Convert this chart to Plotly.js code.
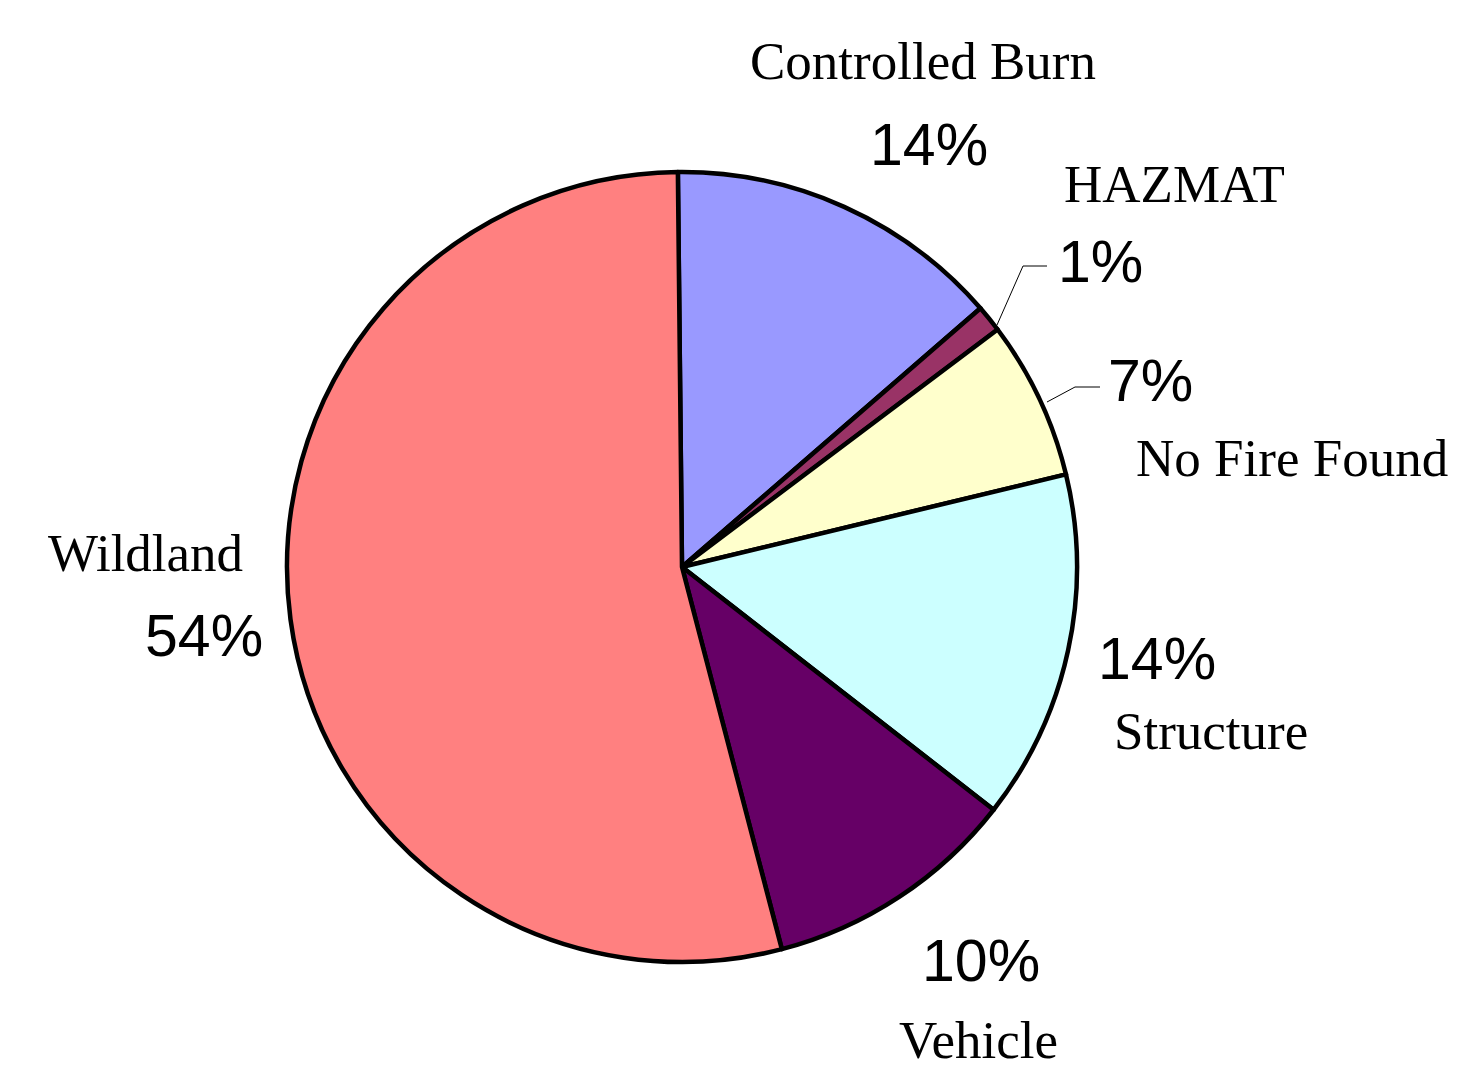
<!DOCTYPE html>
<html>
<head>
<meta charset="utf-8">
<script src="https://cdn.plot.ly/plotly-3.0.1.min.js"></script>
<style>
  html, body { margin: 0; padding: 0; background: #ffffff; }
  #chart { width: 1459px; height: 1069px; }
</style>
</head>
<body>
<div id="chart"></div>
<script>
// ---- Data ----
const categories = ["Controlled Burn", "HAZMAT", "No Fire Found", "Structure", "Vehicle", "Wildland"];
const shares = [13.8, 1.1, 6.5, 14.3, 10.4, 53.9];
const sliceColors = ["#9999FF", "#993366", "#FFFFCC", "#CCFFFF", "#660066", "#FF8080"];

// ---- Layout helpers ----
const W = 1459, H = 1069;
const px = (x) => x / W;
const py = (y) => 1 - y / H;

const total = shares.reduce((a, b) => a + b, 0);
const pctText = shares.map(v => Math.round(v / total * 100) + "%");

// label placement (pixel centres): [nameX, nameY, pctX, pctY]
const labelPos = [
  [923, 61, 929, 145],
  [1174, 184, 1100, 262],
  [1292, 458, 1150, 381],
  [1211, 731, 1157, 659],
  [978, 1040, 981, 961],
  [145, 553, 204, 636]
];

const serif = "Liberation Serif, Times New Roman, serif";
const sans = "Liberation Sans, Arial, sans-serif";

const annotations = [];
categories.forEach((c, i) => {
  const p = labelPos[i];
  annotations.push({
    xref: "paper", yref: "paper", x: px(p[0]), y: py(p[1]),
    xanchor: "center", yanchor: "middle", showarrow: false,
    text: c, font: { family: serif, size: 53, color: "#000000" }
  });
  annotations.push({
    xref: "paper", yref: "paper", x: px(p[2]), y: py(p[3]),
    xanchor: "center", yanchor: "middle", showarrow: false,
    text: pctText[i], font: { family: sans, size: 59, color: "#000000" }
  });
});

// leader lines for the small slices
const leader = (pts) => "M " + pts.map(q => px(q[0]) + "," + py(q[1])).join(" L ");
const shapes = [
  { type: "path", xref: "paper", yref: "paper",
    path: leader([[997, 325], [1023, 266], [1047, 266]]),
    line: { color: "#000000", width: 1 } },
  { type: "path", xref: "paper", yref: "paper",
    path: leader([[1047, 402], [1075, 387], [1100, 387]]),
    line: { color: "#000000", width: 1 } }
];

const trace = {
  type: "pie",
  labels: categories,
  values: shares,
  sort: false,
  direction: "clockwise",
  rotation: -0.6,
  textinfo: "none",
  hoverinfo: "label+percent",
  marker: { colors: sliceColors, line: { color: "#000000", width: 4.5 } },
  domain: { x: [px(287), px(1077)], y: [py(962), py(172)] },
  showlegend: false
};

const layout = {
  width: W, height: H,
  margin: { l: 0, r: 0, t: 0, b: 0 },
  paper_bgcolor: "#ffffff",
  plot_bgcolor: "#ffffff",
  showlegend: false,
  annotations: annotations,
  shapes: shapes
};

Plotly.newPlot("chart", [trace], layout, { displayModeBar: false, staticPlot: true });
</script>
</body>
</html>
